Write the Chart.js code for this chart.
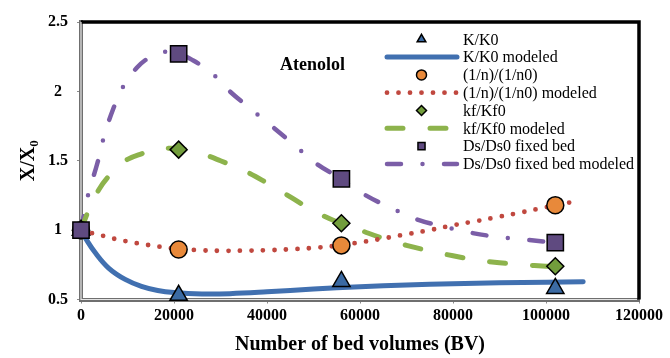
<!DOCTYPE html>
<html>
<head>
<meta charset="utf-8">
<script src="https://cdn.jsdelivr.net/npm/chart.js@4/dist/chart.umd.min.js"></script>
<style>
  html, body { margin: 0; padding: 0; background: #fff; }
  #wrap { width: 670px; height: 358px; position: relative; }
</style>
</head>
<body>
<div id="wrap"><canvas id="bedChart"></canvas></div>
<script>
// measured ratios at the sampled bed volumes
const bedVolumes = [0, 21000, 56000, 102000];
const kMeasured = [1, 0.53, 0.63, 0.58];
const nMeasured = [1, 0.86, 0.89, 1.18];
const kfMeasured = [1, 1.58, 1.05, 0.74];
const dsMeasured = [1, 2.27, 1.37, 0.91];

// modeled curves
const kModelBV = [0, 1000, 3000, 6000, 9500, 13000, 16500, 20000, 26000, 32000, 40000, 50000, 60000, 70000, 80000, 90000, 100000, 108000];
const kModel = [1.0, 0.94, 0.84, 0.725, 0.645, 0.595, 0.565, 0.55, 0.54, 0.542, 0.555, 0.575, 0.592, 0.605, 0.613, 0.62, 0.625, 0.628];

const nModelBV = [0, 2500, 5000, 7500, 10000, 12500, 15000, 17500, 20000, 25000, 30000, 35000, 40000, 45000, 50000, 55000, 60000, 65000, 70000, 75000, 80000, 85000, 90000, 95000, 100000, 106000];
const nModel = [1.0, 0.977, 0.957, 0.935, 0.918, 0.903, 0.89, 0.878, 0.868, 0.856, 0.851, 0.852, 0.855, 0.862, 0.872, 0.888, 0.912, 0.94, 0.97, 1.0, 1.035, 1.065, 1.097, 1.13, 1.165, 1.205];

const kfModelBV = [0, 1000, 2000, 4000, 6000, 8000, 10000, 13000, 16000, 19000, 22000, 26000, 30000, 35000, 40000, 45000, 50000, 55000, 60000, 65000, 70000, 75000, 80000, 85000, 90000, 95000, 100000, 103000];
const kfModel = [1.0, 1.09, 1.17, 1.3, 1.39, 1.46, 1.51, 1.55, 1.58, 1.59, 1.585, 1.55, 1.5, 1.43, 1.34, 1.24, 1.14, 1.06, 1.0, 0.94, 0.89, 0.85, 0.815, 0.785, 0.765, 0.75, 0.74, 0.735];

const dsModelBV = [0, 1500, 3500, 5000, 7000, 9000, 12000, 15000, 18000, 21000, 24000, 28000, 32000, 37000, 41000, 46000, 51000, 56000, 61000, 67000, 72000, 78000, 84000, 90000, 96000, 103000];
const dsModel = [1.0, 1.25, 1.48, 1.68, 1.88, 2.03, 2.17, 2.25, 2.285, 2.27, 2.225, 2.135, 2.0, 1.86, 1.75, 1.61, 1.47, 1.37, 1.255, 1.155, 1.08, 1.025, 0.98, 0.95, 0.93, 0.905];

const xTicks = [0, 20000, 40000, 60000, 80000, 100000, 120000];
const yTicks = [0.5, 1, 1.5, 2, 2.5];

const seriesNames = ['K/K0', 'K/K0 modeled', '(1/n)/(1/n0)', '(1/n)/(1/n0) modeled',
  'kf/Kf0', 'kf/Kf0 modeled', 'Ds/Ds0 fixed bed', 'Ds/Ds0 fixed bed modeled'];

const SERIF = '"Liberation Serif", "Times New Roman", serif';

const pts = (xs, ys) => xs.map((x, i) => ({ x: x, y: ys[i] }));

// lower order is drawn later, so the square markers end up on top
function markerSet(label, xs, ys, style, radius, fill, order) {
  return {
    label: label, data: pts(xs, ys), showLine: false, clip: false, order: order,
    pointStyle: style, pointRadius: radius, pointHoverRadius: radius,
    pointBackgroundColor: fill, pointBorderColor: '#000', pointBorderWidth: 1.5,
    legendRadius: 5
  };
}

function curveSet(label, xs, ys, color, width, dash) {
  return {
    label: label, data: pts(xs, ys), showLine: true, order: 5,
    borderColor: color, borderWidth: width, borderDash: dash,
    borderCapStyle: 'round', borderJoinStyle: 'round',
    pointRadius: 0, tension: 0.4, fill: false
  };
}

const datasets = [
  markerSet(seriesNames[0], bedVolumes, kMeasured, 'triangle', 10, '#3b6aa3', 4),
  curveSet(seriesNames[1], kModelBV, kModel, '#4170b0', 5, []),
  markerSet(seriesNames[2], bedVolumes, nMeasured, 'circle', 8.5, '#e8893a', 3),
  curveSet(seriesNames[3], nModelBV, nModel, '#c0483f', 4.8, [0, 11.5]),
  markerSet(seriesNames[4], bedVolumes, kfMeasured, 'rectRot', 8.5, '#729d3c', 2),
  curveSet(seriesNames[5], kfModelBV, kfModel, '#8db34c', 5, [16, 27]),
  markerSet(seriesNames[6], bedVolumes, dsMeasured, 'rect', 11.5, '#5f4a80', 1),
  curveSet(seriesNames[7], dsModelBV, dsModel, '#7b5ea7', 4.5, [14, 21.5, 0, 21.5])
];

// thick black frame on the top and right, light core in the left/bottom axis lines
const framePlugin = {
  id: 'frame',
  beforeDatasetsDraw(chart) {
    const { ctx, chartArea: a } = chart;
    ctx.save();
    ctx.strokeStyle = '#000';
    ctx.lineWidth = 3.5;
    ctx.beginPath();
    ctx.moveTo(a.left, a.top);
    ctx.lineTo(a.right, a.top);
    ctx.lineTo(a.right, a.bottom);
    ctx.stroke();
    ctx.strokeStyle = '#e4e4e4';
    ctx.lineWidth = 1.2;
    ctx.beginPath();
    ctx.moveTo(a.left, a.top);
    ctx.lineTo(a.left, a.bottom);
    ctx.lineTo(a.right - 2, a.bottom);
    ctx.stroke();
    ctx.restore();
  }
};

// legend, compound name and y title
const notesPlugin = {
  id: 'notes',
  afterDraw(chart) {
    const { ctx, chartArea: a } = chart;
    ctx.save();

    const rowY0 = a.top + 17.3, rowStep = 17.8;
    const lineX0 = a.left + 306, lineX1 = a.left + 376;
    const markX = a.left + 340.5, textX = a.left + 382;
    chart.data.datasets.forEach((ds, i) => {
      const y = rowY0 + i * rowStep;
      if (ds.showLine) {
        ctx.save();
        ctx.strokeStyle = ds.borderColor;
        ctx.lineWidth = ds.borderWidth;
        ctx.lineCap = 'round';
        ctx.setLineDash(ds.borderDash);
        ctx.beginPath();
        ctx.moveTo(lineX0, y);
        ctx.lineTo(lineX1, y);
        ctx.stroke();
        ctx.restore();
      } else {
        ctx.save();
        ctx.fillStyle = ds.pointBackgroundColor;
        ctx.strokeStyle = ds.pointBorderColor;
        ctx.lineWidth = 1.5;
        Chart.helpers.drawPoint(ctx, { pointStyle: ds.pointStyle, radius: ds.legendRadius, rotation: 0, borderWidth: 1.5 }, markX, y);
        ctx.restore();
      }
      ctx.fillStyle = '#000';
      ctx.font = '16px ' + SERIF;
      ctx.textAlign = 'left';
      ctx.textBaseline = 'middle';
      ctx.fillText(ds.label, textX, y + 1);
    });

    ctx.font = 'bold 18px ' + SERIF;
    ctx.textAlign = 'center';
    ctx.textBaseline = 'middle';
    ctx.fillStyle = '#000';
    ctx.fillText('Atenolol', a.left + 231.5, a.top + 43);

    // X/X0 with subscript
    ctx.translate(27, (a.top + a.bottom) / 2);
    ctx.rotate(-Math.PI / 2);
    const big = 'bold 20px ' + SERIF, small = 'bold 13px ' + SERIF;
    ctx.font = big;
    const w1 = ctx.measureText('X/X').width;
    ctx.font = small;
    const w2 = ctx.measureText('0').width;
    let x = -(w1 + w2) / 2;
    ctx.textAlign = 'left';
    ctx.textBaseline = 'alphabetic';
    ctx.font = big;
    ctx.fillText('X/X', x, 7);
    ctx.font = small;
    ctx.fillText('0', x + w1, 11);
    ctx.restore();
  }
};

const tickFont = { family: SERIF, size: 16, weight: 'bold' };
const plainLabel = v => String(v);

new Chart(document.getElementById('bedChart'), {
  type: 'scatter',
  data: { datasets: datasets },
  options: {
    responsive: true,
    maintainAspectRatio: false,
    animation: false,
    layout: { padding: { top: 22, right: 31, left: 0, bottom: 0 } },
    plugins: { legend: { display: false }, tooltip: { enabled: false } },
    scales: {
      x: {
        type: 'linear', min: 0, max: 120000,
        afterBuildTicks: s => { s.ticks = xTicks.map(v => ({ value: v })); },
        afterFit: s => { s.height = 58.5; },
        grid: { drawOnChartArea: false, drawTicks: true, tickLength: 4, color: '#8a8a8a' },
        border: { color: '#6f6f6f', width: 4 },
        ticks: { font: tickFont, color: '#000', padding: 3, maxRotation: 0, autoSkip: false, callback: plainLabel },
        title: { display: true, text: 'Number of bed volumes (BV)', color: '#000',
          font: { family: SERIF, size: 20, weight: 'bold' }, padding: { top: 0, bottom: 1 } }
      },
      y: {
        type: 'linear', min: 0.5, max: 2.5,
        afterBuildTicks: s => { s.ticks = yTicks.map(v => ({ value: v })); },
        afterFit: s => { s.width = 81; },
        grid: { drawOnChartArea: false, drawTicks: true, tickLength: 4, color: '#8a8a8a' },
        border: { color: '#6f6f6f', width: 4 },
        ticks: { font: tickFont, color: '#000', padding: 9, crossAlign: 'center', callback: plainLabel }
      }
    }
  },
  plugins: [framePlugin, notesPlugin]
});
</script>
</body>
</html>
